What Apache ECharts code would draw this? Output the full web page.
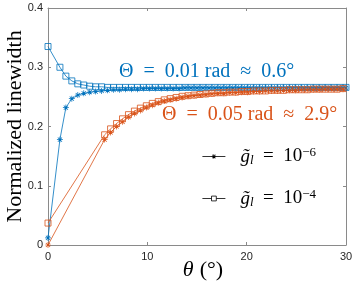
<!DOCTYPE html>
<html><head><meta charset="utf-8">
<script src="https://cdn.jsdelivr.net/npm/echarts@6/dist/echarts.min.js"></script>
<style>html,body{margin:0;padding:0;background:#fff}#c{width:355px;height:284px}</style>
</head><body><div id="c"></div>
<script>
// theta values (degrees)
const thetaBlue = [0,1.2,1.8,2.4,3.0,3.6,4.2,4.8,5.4,6.0,6.6,7.2,7.8,8.4,9.0,9.6,10.2,10.8,11.4,12.0,12.6,13.2,13.8,14.4,15.0,15.6,16.2,16.8,17.4,18.0,18.6,19.2,19.8,20.4,21.0,21.6,22.2,22.8,23.4,24.0,24.6,25.2,25.8,26.4,27.0,27.6,28.2,28.8,29.4,30.0];
const thetaOrange = [0,5.7,6.3,6.9,7.5,8.1,8.7,9.3,9.9,10.5,11.1,11.7,12.3,12.9,13.5,14.1,14.7,15.3,15.9,16.5,17.1,17.7,18.3,18.9,19.5,20.1,20.7,21.3,21.9,22.5,23.1,23.7,24.3,24.9,25.5,26.1,26.7,27.3,27.9,28.5,29.1,29.7];
// Theta = 0.01 rad, g = 1e-4 (squares)
const blueSquares = [0.335,0.300,0.285,0.277,0.272,0.270,0.268,0.267,0.267,0.266,0.266,0.266,0.266,0.266,0.266,0.266,0.266,0.266,0.266,0.266,0.266,0.266,0.266,0.266,0.266,0.266,0.266,0.266,0.266,0.266,0.266,0.266,0.266,0.266,0.266,0.266,0.266,0.266,0.266,0.266,0.266,0.266,0.266,0.266,0.266,0.266,0.266,0.266,0.266,0.266];
// Theta = 0.01 rad, g = 1e-6 (stars)
const blueStars = [0.012,0.178,0.232,0.247,0.253,0.256,0.258,0.259,0.260,0.261,0.262,0.262,0.263,0.263,0.263,0.264,0.264,0.264,0.264,0.264,0.264,0.264,0.265,0.265,0.265,0.265,0.265,0.265,0.265,0.265,0.265,0.265,0.265,0.265,0.265,0.265,0.265,0.265,0.265,0.265,0.265,0.265,0.265,0.265,0.265,0.265,0.265,0.265,0.265,0.265];
// Theta = 0.05 rad, g = 1e-4 (squares)
const orangeSquares = [0.037,0.186,0.196,0.205,0.213,0.220,0.226,0.231,0.235,0.239,0.242,0.245,0.247,0.249,0.251,0.252,0.253,0.254,0.255,0.256,0.257,0.257,0.258,0.258,0.259,0.259,0.260,0.260,0.260,0.261,0.261,0.261,0.262,0.262,0.262,0.262,0.263,0.263,0.263,0.263,0.263,0.264];
// Theta = 0.05 rad, g = 1e-6 (stars)
const orangeStars = [0.000,0.178,0.190,0.200,0.208,0.216,0.222,0.227,0.232,0.236,0.240,0.243,0.245,0.247,0.249,0.251,0.252,0.253,0.254,0.255,0.256,0.256,0.257,0.257,0.258,0.258,0.259,0.259,0.260,0.260,0.260,0.261,0.261,0.261,0.262,0.262,0.262,0.262,0.263,0.263,0.263,0.263];
const xTicks = [0,10,20,30];
const yTicks = [0,0.1,0.2,0.3,0.4];

const BLUE = '#0072BD', ORANGE = '#D95319';
const STAR = 'path://M-0.12,-1L0.12,-1L0.12,1L-0.12,1ZM-1,-0.12L1,-0.12L1,0.12L-1,0.12ZM-0.79,-0.62L-0.62,-0.79L0.79,0.62L0.62,0.79ZM0.62,-0.79L0.79,-0.62L-0.62,0.79L-0.79,0.62Z';
const AX = '#8a8a8a';
const SERIF = '"Liberation Serif","DejaVu Serif",serif';
const EN = '\u2002';

function zip(xs, ys){ return xs.map((x,i)=>[x,ys[i]]); }
function starSeries(xs, ys, col){
  return {type:'line', name:'g6', data:zip(xs,ys), symbol:STAR, symbolSize:6, showAllSymbol:true,
    lineStyle:{color:col,width:0.8}, itemStyle:{color:col}, z:3};
}
function sqSeries(xs, ys, col){
  return {type:'line', name:'g4', data:zip(xs,ys), symbol:'rect', symbolSize:6, showAllSymbol:true,
    lineStyle:{color:col,width:0.8}, itemStyle:{color:'rgba(255,255,255,0)',borderColor:col,borderWidth:0.8}, z:3};
}
const axLabel = {color:'#262626', fontSize:11, fontFamily:'"Liberation Sans",Arial,sans-serif'};
const chart = echarts.init(document.getElementById('c'), null, {renderer:'canvas'});
chart.setOption({
  animation:false,
  grid:{left:48, right:9, top:8, bottom:39, show:false, containLabel:false, outerBoundsMode:'none'},
  xAxis:[{type:'value', min:xTicks[0], max:xTicks[xTicks.length-1], interval:10,
      axisLine:{show:true,lineStyle:{color:AX,width:1}}, axisTick:{show:true,inside:true,length:3,lineStyle:{color:AX}},
      splitLine:{show:false}, axisLabel:Object.assign({margin:6},axLabel),
      name:'{t|θ}'+EN+'{n|(°)}', nameLocation:'middle', nameGap:14, nameMoveOverlap:false,
      nameTextStyle:{padding:[0,0,0,12], rich:{t:{fontFamily:SERIF,fontStyle:'italic',fontSize:22,color:'#000'},n:{fontFamily:SERIF,fontSize:22,color:'#000'}}}},
    {type:'value', position:'top', min:0, max:30, interval:10,
      axisLine:{show:true,onZero:false,lineStyle:{color:AX,width:1}}, axisTick:{show:true,inside:true,length:3,lineStyle:{color:AX}},
      axisLabel:{show:false}, splitLine:{show:false}}],
  yAxis:[{type:'value', min:yTicks[0], max:yTicks[yTicks.length-1], interval:0.1,
      axisLine:{show:true,lineStyle:{color:AX,width:1}}, axisTick:{show:true,inside:true,length:3,lineStyle:{color:AX}},
      splitLine:{show:false}, axisLabel:Object.assign({margin:5},axLabel),
      name:'Normalized linewidth', nameLocation:'middle', nameGap:22, nameMoveOverlap:false,
      nameTextStyle:{fontFamily:SERIF,fontSize:22,color:'#000'}},
    {type:'value', position:'right', min:0, max:0.4, interval:0.1,
      axisLine:{show:true,onZero:false,lineStyle:{color:AX,width:1}}, axisTick:{show:true,inside:true,length:3,lineStyle:{color:AX}},
      axisLabel:{show:false}, splitLine:{show:false}}],
  legend:{orient:'vertical', left:197, top:141, itemWidth:23, itemHeight:6, itemGap:21,
    data:[{name:'g6', itemStyle:{color:'#000'}, lineStyle:{color:'#000',width:0.8}},
          {name:'g4', itemStyle:{color:'#fff',borderColor:'#000',borderWidth:0.8}, lineStyle:{color:'#000',width:0.8}}],
    formatter: n => '{i|g̃}{s|l}{n|'+EN+'='+EN+'10}{p|'+(n==='g6'?'−6':'−4')+'}',
    textStyle:{padding:[0,0,0,10], rich:{
      i:{fontFamily:SERIF,fontStyle:'italic',fontSize:19,color:'#000'},
      s:{fontFamily:SERIF,fontStyle:'italic',fontSize:13,color:'#000',verticalAlign:'bottom',padding:[8,0,0,0]},
      n:{fontFamily:SERIF,fontSize:19,color:'#000'},
      p:{fontFamily:SERIF,fontSize:13,color:'#000',verticalAlign:'top',padding:[0,0,8,0]}}}},
  graphic:[
    {type:'text', left:119, top:62, style:{text:'Θ'+EN+'='+EN+'0.01 rad'+EN+'≈'+EN+'0.6°', fill:BLUE, font:'20px '+SERIF}},
    {type:'text', left:162, top:105, style:{text:'Θ'+EN+'='+EN+'0.05 rad'+EN+'≈'+EN+'2.9°', fill:ORANGE, font:'20px '+SERIF}}
  ],
  series:[
    sqSeries(thetaBlue, blueSquares, BLUE),
    starSeries(thetaBlue, blueStars, BLUE),
    sqSeries(thetaOrange, orangeSquares, ORANGE),
    starSeries(thetaOrange, orangeStars, ORANGE)
  ]
});
</script></body></html>
